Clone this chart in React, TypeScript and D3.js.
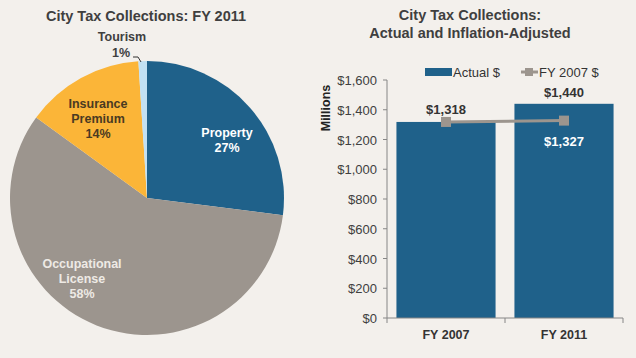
import React from "react";
import * as d3 from "d3";

const pieLabels = ["Property", "Occupational License", "Insurance Premium", "Tourism"];
const pieValues = [27, 58, 14, 1];
const pieColors = ["#1F618A", "#9C958E", "#FBB538", "#C2E1F3"];

const years = ["FY 2007", "FY 2011"];
const actual = [1318, 1440];
const adjusted = [1318, 1327];
const yTicks = [0, 200, 400, 600, 800, 1000, 1200, 1400, 1600];

const BG = "#F3F0EC";
const FONT = "'Liberation Sans', Arial, sans-serif";

export default function App() {
  const cx = 147, cy = 198, r = 137;
  const pie = d3.pie<number>().sort(null).value((d) => d)(pieValues);
  const arc = d3.arc<d3.PieArcDatum<number>>().innerRadius(0).outerRadius(r);

  const x = d3.scaleBand().domain(years).range([387, 623]).paddingInner(0.16).paddingOuter(0.08);
  const y = d3.scaleLinear().domain([0, 1600]).range([318, 80]);
  const fmt = (v: number) => "$" + d3.format(",")(v);
  const cxBar = (i: number) => (x(years[i]) as number) + x.bandwidth() / 2;
  const line = d3.line<number>().x((_, i) => cxBar(i)).y((d) => y(d));

  return (
    <svg width={636} height={358} style={{ position: "absolute", left: 0, top: 0, fontFamily: FONT }}>
      <rect width={636} height={358} fill={BG} />
      {/* Pie */}
      <text x={146} y={21} textAnchor="middle" fontSize={14.5} fontWeight="bold" fill="#3F3F3F">City Tax Collections: FY 2011</text>
      <g transform={`translate(${cx},${cy})`}>
        {pie.map((p, i) => (
          <path key={i} d={arc(p) as string} fill={pieColors[i]} />
        ))}
      </g>
      <g fontSize={12.5} fontWeight="bold" textAnchor="middle">
        <text x={227} y={137} fill="#FFFFFF">{pieLabels[0]}</text>
        <text x={227} y={152} fill="#FFFFFF">{pieValues[0]}%</text>
        <text x={82} y={268} fill="#EEEAE5">Occupational</text>
        <text x={82} y={283} fill="#EEEAE5">License</text>
        <text x={82} y={298} fill="#EEEAE5">{pieValues[1]}%</text>
        <text x={98} y={108} fill="#4A3A22">Insurance</text>
        <text x={98} y={123} fill="#4A3A22">Premium</text>
        <text x={98} y={138} fill="#4A3A22">{pieValues[2]}%</text>
        <text x={122} y={41} fill="#3F3F3F">{pieLabels[3]}</text>
        <text x={121} y={57} fill="#3F3F3F">{pieValues[3]}%</text>
      </g>
      <path d="M133,57 L138,57 L141,62" fill="none" stroke="#333" strokeWidth={1} />

      {/* Bar chart */}
      <text x={470} y={20} textAnchor="middle" fontSize={14.5} fontWeight="bold" fill="#3F3F3F">City Tax Collections:</text>
      <text x={470} y={38} textAnchor="middle" fontSize={14.5} fontWeight="bold" fill="#3F3F3F">Actual and Inflation-Adjusted</text>
      <text transform="translate(330,108) rotate(-90)" textAnchor="middle" fontSize={12.5} fontWeight="bold" fill="#222">Millions</text>

      {actual.map((v, i) => (
        <rect key={i} x={x(years[i])} y={y(v)} width={x.bandwidth()} height={y(0) - y(v)} fill="#1F618A" />
      ))}

      {/* axes */}
      <line x1={387} x2={387} y1={80} y2={318} stroke="#868686" />
      {yTicks.map((t) => (
        <g key={t}>
          <line x1={383} x2={387} y1={y(t)} y2={y(t)} stroke="#868686" />
          <text x={377} y={y(t) + 5} textAnchor="end" fontSize={13} fill="#404040">{fmt(t)}</text>
        </g>
      ))}
      <line x1={387} x2={623} y1={318} y2={318} stroke="#868686" />
      {[387, 505, 623].map((t) => (
        <line key={t} x1={t} x2={t} y1={318} y2={323} stroke="#868686" />
      ))}
      {years.map((yr, i) => (
        <text key={yr} x={cxBar(i)} y={339} textAnchor="middle" fontSize={12.5} fontWeight="bold" fill="#333">{yr}</text>
      ))}

      {/* line */}
      <path d={line(adjusted) as string} fill="none" stroke="#9C958E" strokeWidth={3} />
      {adjusted.map((v, i) => (
        <rect key={i} x={cxBar(i) - 5} y={y(v) - 5} width={10} height={10} fill="#9C958E" />
      ))}

      {/* data labels */}
      <text x={cxBar(0)} y={y(actual[0]) - 8} textAnchor="middle" fontSize={13} fontWeight="bold" fill="#333">{fmt(actual[0])}</text>
      <text x={cxBar(1)} y={y(actual[1]) - 7} textAnchor="middle" fontSize={13} fontWeight="bold" fill="#333">{fmt(actual[1])}</text>
      <text x={cxBar(1)} y={146} textAnchor="middle" fontSize={13} fontWeight="bold" fill="#FFFFFF">{fmt(adjusted[1])}</text>

      {/* legend */}
      <rect x={425} y={68} width={27} height={8} fill="#1F618A" />
      <text x={453} y={77} fontSize={13} fill="#333">Actual $</text>
      <line x1={521} x2={538} y1={72} y2={72} stroke="#9C958E" strokeWidth={3} />
      <rect x={525} y={68} width={8} height={8} fill="#9C958E" />
      <text x={539} y={77} fontSize={13} fill="#333">FY 2007 $</text>
    </svg>
  );
}
